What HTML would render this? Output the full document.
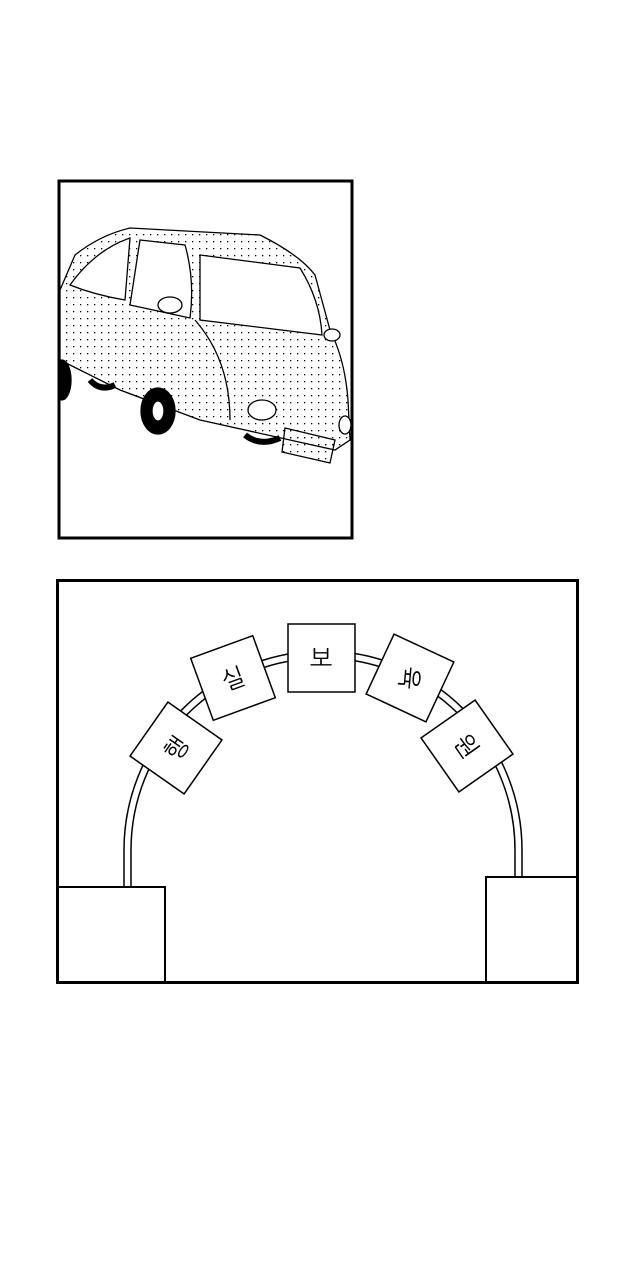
<!DOCTYPE html>
<html><head><meta charset="utf-8"><style>
html,body{margin:0;padding:0;background:#fff;}
svg{display:block}
text{font-family:"Liberation Sans","NanumGothic","Noto Sans CJK KR",sans-serif;font-size:24px;}
</style></head><body>
<svg width="640" height="1280" viewBox="0 0 640 1280" xmlns="http://www.w3.org/2000/svg">
<defs>
<pattern id="dots" width="7" height="7" patternUnits="userSpaceOnUse"><rect x="3" y="3" width="1.3" height="1.3" fill="#000"/></pattern>
<clipPath id="p1"><rect x="60" y="182" width="292" height="355"/></clipPath>
</defs>
<rect x="0" y="0" width="640" height="1280" fill="#fff"/>
<g clip-path="url(#p1)" stroke="#000" stroke-width="1.3" fill="none">
<path d="M60 290 L75 255 Q100 235 130 228 L260 235 Q300 255 315 275 L330 330 Q345 360 348 400 L350 440 L335 450 L290 440 L200 420 L120 390 L60 360 Z" fill="url(#dots)"/>
<path d="M70 285 Q95 250 130 238 L125 300 Q95 295 70 285 Z" fill="#fff"/>
<path d="M140 240 L185 245 Q195 280 190 318 L130 305 Z" fill="#fff"/>
<path d="M200 255 L300 268 Q320 300 322 335 L200 320 Z" fill="#fff"/>
<path d="M195 320 Q230 360 230 420"/>
<ellipse cx="262" cy="410" rx="14" ry="10" fill="#fff"/>
<ellipse cx="170" cy="305" rx="12" ry="8" fill="#fff"/>
<ellipse cx="332" cy="335" rx="8" ry="6" fill="#fff"/>
<ellipse cx="158" cy="411" rx="17" ry="23" fill="#000"/>
<ellipse cx="158" cy="411" rx="6" ry="10" fill="#fff"/>
<ellipse cx="62" cy="380" rx="9" ry="20" fill="#000"/>
<path d="M90 380 Q100 392 115 385" stroke-width="6"/>
<path d="M245 435 Q260 447 280 438" stroke-width="6"/>
<path d="M285 428 L335 440 L330 463 L282 452 Z" fill="url(#dots)"/>
<ellipse cx="345" cy="425" rx="6" ry="9" fill="#fff"/>
</g>
<rect x="59" y="181" width="293" height="357" fill="none" stroke="#000" stroke-width="3"/>
<rect x="57.5" y="580.5" width="520" height="402" fill="none" stroke="#000" stroke-width="3"/>
<g fill="none" stroke="#000" stroke-width="1.5">
<path d="M124 887 L124 850 A198 198 0 0 1 522 850 L522 877"/>
<path d="M131 887 L131 850 A191 191 0 0 1 515 850 L515 877"/>
</g>
<rect x="58" y="887" width="107" height="95" fill="#fff" stroke="#000" stroke-width="2"/>
<rect x="486" y="877" width="91" height="105" fill="#fff" stroke="#000" stroke-width="2"/>
<g stroke="#000" stroke-width="1.5" fill="#fff">
<g transform="translate(176,748) rotate(35)"><rect x="-33" y="-33" width="66" height="66"/><text x="0" y="9" text-anchor="middle" stroke="none" fill="#000" transform="rotate(-90)">행</text></g>
<g transform="translate(233,678) rotate(-20)"><rect x="-33" y="-33" width="66" height="66"/><text x="0" y="9" text-anchor="middle" stroke="none" fill="#000">실</text></g>
<g transform="translate(321,658)"><rect x="-33" y="-34" width="67" height="68"/><text x="0" y="9" text-anchor="middle" stroke="none" fill="#000">보</text></g>
<g transform="translate(410,678) rotate(25)"><rect x="-33" y="-33" width="66" height="66"/><text x="0" y="9" text-anchor="middle" stroke="none" fill="#000" transform="rotate(70)">육</text></g>
<g transform="translate(467,746) rotate(-35)"><rect x="-33" y="-33" width="66" height="66"/><text x="0" y="9" text-anchor="middle" stroke="none" fill="#000" transform="rotate(90)">원</text></g>
</g>
</svg>
</body></html>
